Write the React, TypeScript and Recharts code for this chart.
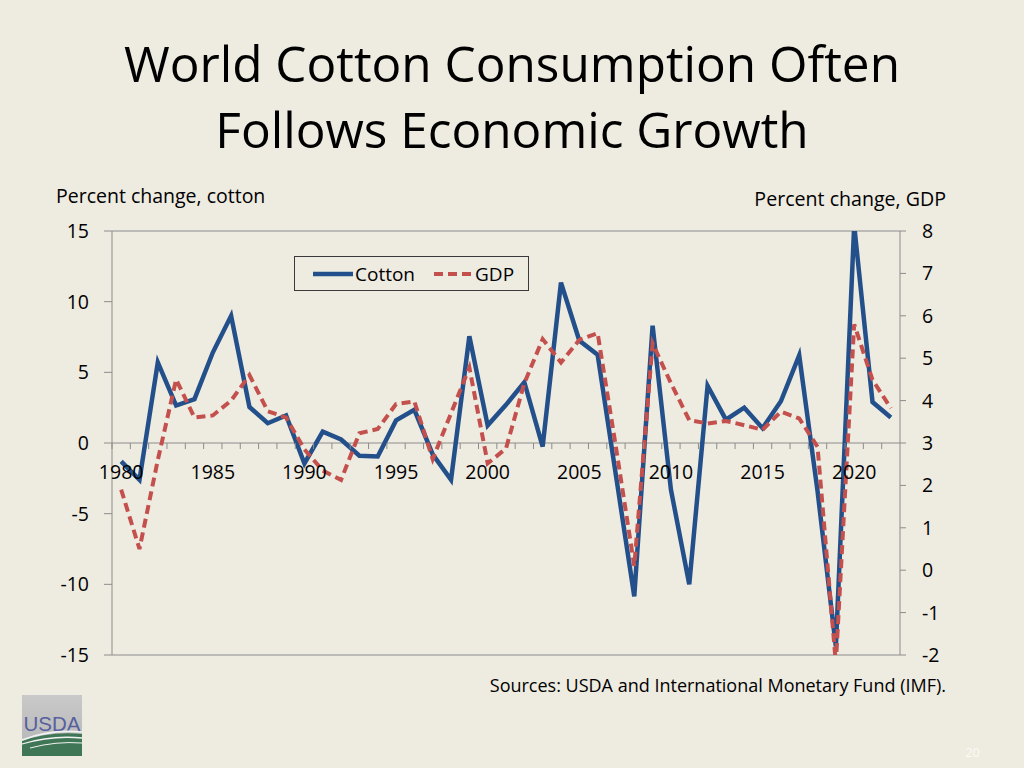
import React from 'react';
import { LineChart, Line, XAxis, YAxis, ReferenceLine, Legend } from 'recharts';

// ---------- data ----------
const years = [
  1980, 1981, 1982, 1983, 1984, 1985, 1986, 1987, 1988, 1989,
  1990, 1991, 1992, 1993, 1994, 1995, 1996, 1997, 1998, 1999,
  2000, 2001, 2002, 2003, 2004, 2005, 2006, 2007, 2008, 2009,
  2010, 2011, 2012, 2013, 2014, 2015, 2016, 2017, 2018, 2019,
  2020, 2021, 2022,
];

const cottonChange = [
  -1.3, -2.6, 5.7, 2.65, 3.1, 6.4, 9.0, 2.55, 1.4, 1.95,
  -1.45, 0.8, 0.25, -0.9, -0.95, 1.6, 2.35, -0.8, -2.6, 7.55,
  1.25, 2.7, 4.3, -0.25, 11.35, 7.25, 6.25, -2.3, -10.85, 8.3,
  -3.3, -10.0, 4.05, 1.65, 2.5, 1.05, 2.95, 6.2, -3.4, -14.4,
  15.4, 2.9, 1.8,
];

const gdpChange = [
  1.9, 0.5, 2.6, 4.5, 3.6, 3.65, 4.0, 4.6, 3.75, 3.6,
  2.85, 2.35, 2.13, 3.23, 3.33, 3.92, 3.98, 2.62, 3.7, 4.78,
  2.52, 2.87, 4.41, 5.45, 4.9, 5.43, 5.59, 2.9, 0.1, 5.35,
  4.41, 3.54, 3.46, 3.52, 3.42, 3.31, 3.74, 3.58, 2.91, -2.2,
  5.8, 4.49, 3.82,
];

const leftTicks = [-15, -10, -5, 0, 5, 10, 15];
const rightTicks = [-2, -1, 0, 1, 2, 3, 4, 5, 6, 7, 8];
const labelEvery = 5;

const titleLines = ['World Cotton Consumption Often', 'Follows Economic Growth'];
const leftAxisTitle = 'Percent change, cotton';
const rightAxisTitle = 'Percent change, GDP';
const sourceText = 'Sources: USDA and International Monetary Fund (IMF).';
const pageNumber = '20';

const data = years.map((y, i) => ({ year: y, cotton: cottonChange[i], gdp: gdpChange[i] }));

// ---------- layout / style ----------
const FONT = '"Open Sans", "DejaVu Sans", sans-serif';
const BG = '#EEEBE1';
const BLUE = '#23508A';
const RED = '#C4504D';
const AXIS = '#8C8C8C';
const W = 1024;
const H = 768;
const MARGIN = { top: 231, right: 64, bottom: 83, left: 0 };
const LEFT_W = 112;
const RIGHT_W = 60;
const XAXIS_H = 30;
const PLOT_W = W - MARGIN.left - MARGIN.right - LEFT_W - RIGHT_W;
const PLOT_H = H - MARGIN.top - MARGIN.bottom - XAXIS_H;
const BAND = PLOT_W / years.length;
const LEFT_MIN = leftTicks[0];
const LEFT_MAX = leftTicks[leftTicks.length - 1];
const ZERO_Y = MARGIN.top + (PLOT_H * (LEFT_MAX - 0)) / (LEFT_MAX - LEFT_MIN);

const XTick = (props: any) => {
  const { x, payload } = props;
  const v = Number(payload.value);
  const tx = x - BAND / 2;
  return (
    <g>
      <line x1={tx} x2={tx} y1={ZERO_Y} y2={ZERO_Y + 6} stroke={AXIS} strokeWidth={1} />
      {v % labelEvery === 0 && (
        <text x={x} y={ZERO_Y + 36} textAnchor="middle" fill="#000" fontSize={19.5} fontFamily={FONT}>
          {v}
        </text>
      )}
    </g>
  );
};

const LegendBox = () => (
  <div
    style={{
      width: 235,
      height: 35,
      boxSizing: 'border-box',
      border: '1.5px solid #3a3a3a',
      display: 'flex',
      alignItems: 'center',
      fontFamily: FONT,
      fontSize: 19,
      color: '#000',
      lineHeight: '20px',
    }}
  >
    <svg width={40} height={10} style={{ marginLeft: 18 }}>
      <line x1={0} y1={5} x2={40} y2={5} stroke={BLUE} strokeWidth={4.5} />
    </svg>
    <span style={{ marginLeft: 2 }}>Cotton</span>
    <svg width={39} height={10} style={{ marginLeft: 19 }}>
      <line x1={0} y1={5} x2={39} y2={5} stroke={RED} strokeWidth={4} strokeDasharray="9 5" />
    </svg>
    <span style={{ marginLeft: 2 }}>GDP</span>
  </div>
);

const Overlay = () => (
  <svg width={W} height={H} style={{ position: 'absolute', left: 0, top: 0, pointerEvents: 'none' }}>
    <text x={512} y={82} textAnchor="middle" fontFamily={FONT} fontSize={49.5} fill="#000">
      {titleLines[0]}
    </text>
    <text x={512} y={148} textAnchor="middle" fontFamily={FONT} fontSize={49.5} fill="#000">
      {titleLines[1]}
    </text>
    <text x={56} y={203} fontFamily={FONT} fontSize={19.5} fill="#000">
      {leftAxisTitle}
    </text>
    <text x={946} y={205.5} textAnchor="end" fontFamily={FONT} fontSize={19.6} fill="#000">
      {rightAxisTitle}
    </text>
    <text x={946} y={692} textAnchor="end" fontFamily={FONT} fontSize={18} fill="#000">
      {sourceText}
    </text>
    <text x={980} y={757} textAnchor="end" fontFamily={FONT} fontSize={13} fill="#FAFAF6">
      {pageNumber}
    </text>
    {/* USDA logo */}
    <g>
      <defs>
        <linearGradient id="logoGray" x1="0" y1="0" x2="0" y2="1">
          <stop offset="0" stopColor="#C9C9C9" />
          <stop offset="1" stopColor="#B4B4B4" />
        </linearGradient>
      </defs>
      <rect x={22} y={695} width={60} height={61} fill="url(#logoGray)" />
      <text x={52} y={731} textAnchor="middle" fontFamily='"Liberation Sans Narrow", "Liberation Sans", sans-serif'
        fontSize={21} fill="#56609E" textLength={57} lengthAdjust="spacingAndGlyphs">USDA</text>
      <path d="M22,741 Q50,731 82,734 L82,756 L22,756 Z" fill="#3F7756" />
      <path d="M22,740 Q50,729 82,732" stroke="#F2F2F2" strokeWidth={1.6} fill="none" />
      <path d="M22,744 Q52,735 82,738" stroke="#F2F2F2" strokeWidth={1.3} fill="none" />
      <path d="M30,748 Q56,741 82,743" stroke="#F2F2F2" strokeWidth={1} fill="none" />
    </g>
  </svg>
);

export default function App() {
  return (
    <div style={{ position: 'absolute', left: 0, top: 0, width: W, height: H, background: BG, overflow: 'hidden' }}>
      <Overlay />
      <LineChart width={W} height={H} data={data} margin={MARGIN}>
        <XAxis
          dataKey="year"
          interval={0}
          axisLine={false}
          tickLine={false}
          height={XAXIS_H}
          padding={{ left: BAND / 2, right: BAND / 2 }}
          tick={(p: any) => <XTick {...p} />}
        />
        <YAxis
          yAxisId="left"
          width={LEFT_W}
          domain={[LEFT_MIN, LEFT_MAX]}
          ticks={leftTicks}
          allowDataOverflow
          interval={0}
          axisLine={{ stroke: AXIS }}
          tickLine={{ stroke: AXIS }}
          tickSize={8}
          tickMargin={15}
          tick={{ fill: '#000', fontSize: 19.5, fontFamily: FONT }}
        />
        <YAxis
          yAxisId="right"
          orientation="right"
          width={RIGHT_W}
          domain={[rightTicks[0], rightTicks[rightTicks.length - 1]]}
          ticks={rightTicks}
          allowDataOverflow
          interval={0}
          axisLine={{ stroke: AXIS }}
          tickLine={{ stroke: AXIS }}
          tickSize={6}
          tickMargin={16}
          tick={{ fill: '#000', fontSize: 19.5, fontFamily: FONT }}
        />
        <ReferenceLine yAxisId="left" y={LEFT_MAX} stroke={AXIS} strokeWidth={1} />
        <ReferenceLine yAxisId="left" y={LEFT_MIN} stroke={AXIS} strokeWidth={1} />
        <ReferenceLine yAxisId="left" y={0} stroke={AXIS} strokeWidth={1} />
        <Legend
          verticalAlign="middle"
          align="center"
          layout="horizontal"
          content={() => <LegendBox />}
          wrapperStyle={{ position: 'absolute', left: 294, top: 256, width: 235, height: 35 }}
        />
        <Line
          yAxisId="left"
          type="linear"
          dataKey="cotton"
          name="Cotton"
          stroke={BLUE}
          strokeWidth={4.5}
          dot={false}
          activeDot={false}
          isAnimationActive={false}
        />
        <Line
          yAxisId="right"
          type="linear"
          dataKey="gdp"
          name="GDP"
          stroke={RED}
          strokeWidth={4}
          strokeDasharray="9 5"
          dot={false}
          activeDot={false}
          isAnimationActive={false}
        />
      </LineChart>
    </div>
  );
}
